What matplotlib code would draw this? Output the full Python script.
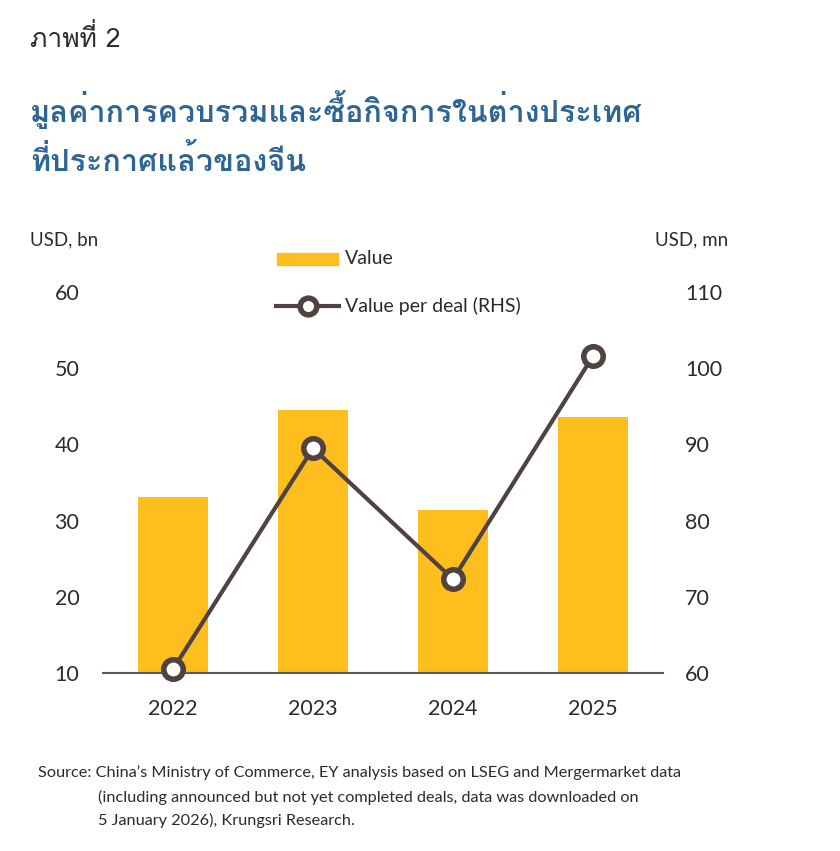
import numpy as np
import matplotlib
matplotlib.use("Agg")
import matplotlib.pyplot as plt
from matplotlib import font_manager
from matplotlib.ft2font import FT2Font
from matplotlib.patches import Rectangle
from matplotlib.lines import Line2D

# data
years = ["2022", "2023", "2024", "2025"]
value_bn = [33.1, 44.5, 31.4, 43.6]          # left axis, USD bn
value_per_deal = [60.5, 89.5, 72.3, 101.6]   # right axis, USD mn
left_ticks = [10, 20, 30, 40, 50, 60]
right_ticks = [60, 70, 80, 90, 100, 110]

fig_label = "ภาพที่ 2"
title_lines = ["มูลค่าการควบรวมและซื้อกิจการในต่างประเทศ", "ที่ประกาศแล้วของจีน"]
source_lines = ["Source: China\u2019s Ministry of Commerce, EY analysis based on LSEG and Mergermarket data",
                "(including announced but not yet completed deals, data was downloaded on",
                "5 January 2026), Krungsri Research."]

# find a font that has thai glyphs
thai_font = None
for f in font_manager.fontManager.ttflist:
    try:
        cmap = FT2Font(f.fname).get_charmap()
    except Exception:
        continue
    if ord("ม") in cmap and ord("ี") in cmap:
        thai_font = f.name
        break
thai_family = [thai_font, "DejaVu Sans"] if thai_font else ["DejaVu Sans"]

base = "Lato"
bar_col = "#FDBE1E"
line_col = "#4F4240"
axis_col = "#5A5A5A"
txt_col = "#2B2B2B"

fig = plt.figure(figsize=(8.4, 8.51), dpi=100)
W, H = 840, 851

def fx(px):
    return px / W

def fy(py):
    return 1 - py / H

fig.text(fx(30), fy(47), fig_label, family=thai_family, fontsize=19, color=txt_col, va="baseline")
fig.text(fx(30), fy(122), title_lines[0], family=thai_family, fontsize=22, color="#2F6593",
         va="baseline", weight="bold")
fig.text(fx(30), fy(171), title_lines[1], family=thai_family, fontsize=22, color="#2F6593",
         va="baseline", weight="bold")

ax = fig.add_axes([fx(103), fy(673), fx(663) - fx(103), fy(292) - fy(673)])
ax2 = ax.twinx()

x = np.arange(len(years))
ax.bar(x, value_bn, width=0.5, color=bar_col, bottom=0, zorder=1)
ax.set_ylim(10, 60)
ax.set_xlim(-0.5, len(years) - 0.5)
ax.set_yticks(left_ticks)
ax.set_xticks(x)
ax.set_xticklabels(years)

ax2.plot(x, value_per_deal, color=line_col, lw=3, marker="o", ms=14, mfc="white",
         mec=line_col, mew=4, zorder=3, clip_on=False)
ax2.set_ylim(60, 110)
ax2.set_yticks(right_ticks)

for a in (ax, ax2):
    for s in a.spines.values():
        s.set_visible(False)
    a.tick_params(length=0, labelsize=15.5, labelcolor=txt_col)
    for lab in a.get_yticklabels() + a.get_xticklabels():
        lab.set_family(base)
ax.spines["bottom"].set_visible(True)
ax.spines["bottom"].set_color(axis_col)
ax.spines["bottom"].set_linewidth(1.5)
ax.tick_params(axis="x", pad=19)
ax2.tick_params(axis="y", pad=16)
for lab in ax.get_yticklabels():
    lab.set_horizontalalignment("center")
ax.tick_params(axis="y", pad=26)

fig.text(fx(30), fy(240), "USD, bn", family=base, fontsize=13.5, color=txt_col, va="center")
fig.text(fx(655), fy(240), "USD, mn", family=base, fontsize=13.5, color=txt_col, va="center")

# legend drawn by hand
fig.patches.append(Rectangle((fx(277), fy(265)), fx(61), fy(253) - fy(265), color=bar_col,
                             transform=fig.transFigure, figure=fig))
fig.text(fx(345), fy(259), "Value", family=base, fontsize=14, color=txt_col, va="center")
fig.lines.append(Line2D([fx(276), fx(339)], [fy(306), fy(306)], color=line_col, lw=3,
                        transform=fig.transFigure, figure=fig))
fig.lines.append(Line2D([fx(308)], [fy(306)], color=line_col, marker="o", ms=12, mfc="white",
                        mew=4, transform=fig.transFigure, figure=fig))
fig.text(fx(345), fy(306), "Value per deal (RHS)", family=base, fontsize=14, color=txt_col,
         va="center")

fig.text(fx(38), fy(773), source_lines[0], family=base, fontsize=11.7, color=txt_col, va="center")
fig.text(fx(98), fy(797), source_lines[1], family=base, fontsize=11.7, color=txt_col, va="center")
fig.text(fx(98), fy(820), source_lines[2], family=base, fontsize=11.7, color=txt_col, va="center")

fig.savefig("out.png", dpi=100)
